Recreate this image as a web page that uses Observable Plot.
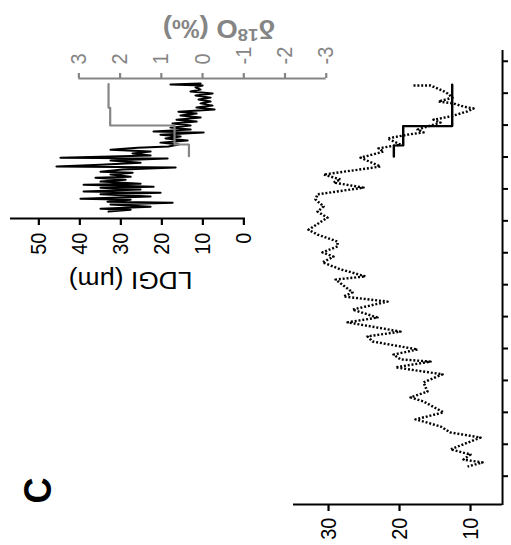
<!DOCTYPE html>
<html><head><meta charset="utf-8">
<script src="https://cdn.jsdelivr.net/npm/d3@7"></script>
<script src="https://cdn.jsdelivr.net/npm/@observablehq/plot@0.6"></script>
<style>
html,body{margin:0;padding:0;background:#fff;width:511px;height:545px;overflow:hidden;}
#fig{position:absolute;left:0;top:0;width:545px;height:464.545px;transform-origin:0 0;transform:translate(0px,545px) rotate(-90deg) scale(1,1.1);}
#fig svg{position:absolute;left:0;top:0;}
</style></head><body><div id="fig"></div>
<script>
// ---- data ----
const timeTicks = [0,1,2,3,4,5,6,7,8,9,10,11,12,13];
const valueTicks = [10,20,30];
const ldgiTicks = [0,10,20,30,40,50];
const d18oTicks = [3,2,1,0,-1,-2,-3];

const seriesTime = [12.24,12.24,12.08,11.99,11.86,11.74,11.68,11.58,11.52,11.43,11.27,11.17,11.08,10.86,10.77,10.70,10.58,10.39,10.27,10.17,9.98,9.70,9.45,9.30,9.20,9.04,8.83,8.67,8.45,8.29,8.10,7.72,7.57,7.35,7.20,7.01,6.88,6.70,6.48,6.26,6.16,5.76,5.63,5.47,5.22,4.97,4.82,4.53,4.38,4.22,3.97,3.81,3.66,3.59,3.41,3.19,2.94,2.65,2.47,2.34,2.00,1.78,1.56,1.37,1.21,0.84,0.68,0.52,0.43,0.30];
const seriesValue = [18.03,15.63,13.94,13.24,12.54,14.51,12.39,10.99,9.58,10.42,12.82,15.21,14.23,17.46,16.62,18.87,21.69,19.86,22.96,22.25,25.49,22.68,30.70,28.31,29.30,25.07,31.55,31.83,30.70,31.55,30.14,32.82,31.55,28.73,28.73,30.85,29.30,30.85,28.31,24.79,29.01,26.62,27.89,21.69,26.62,23.10,27.32,19.86,24.51,23.80,17.46,20.85,19.86,15.63,20.56,13.94,16.62,16.06,18.45,16.62,13.80,17.75,14.23,12.82,8.59,12.82,10.00,10.99,8.31,10.42];

const stepTime = [10.01,10.36,10.97,12.27];
const stepValue = [20.80,19.48,12.58,12.58];

const ldgiTime = [12.30,12.27,12.24,12.18,12.11,12.05,11.99,11.93,11.86,11.80,11.74,11.68,11.61,11.55,11.49,11.42,11.36,11.30,11.24,11.17,11.11,11.05,10.99,10.92,10.86,10.80,10.77,10.70,10.64,10.58,10.52,10.45,10.39,10.33,10.29,10.23,10.17,10.11,10.05,9.98,9.95,9.89,9.82,9.76,9.70,9.67,9.61,9.54,9.51,9.45,9.38,9.35,9.29,9.23,9.16,9.13,9.07,9.04,8.98,8.92,8.88,8.83,8.76,8.69,8.66,8.60,8.57,8.51,8.44,8.38,8.35,8.29];
const ldgiValue = [10.56,17.88,10.07,11.78,10.56,13.00,7.63,11.78,8.12,11.05,8.12,10.56,7.63,11.54,7.15,15.93,11.54,15.44,10.56,16.41,11.54,17.39,13.00,17.88,13.00,22.02,9.83,20.32,15.44,19.10,13.73,20.32,15.93,18.37,25.93,32.51,22.76,27.15,22.76,44.71,18.61,32.51,25.20,34.95,45.68,16.66,29.59,34.95,27.15,32.51,27.63,36.17,28.85,34.95,25.20,39.07,22.02,34.95,25.20,39.07,20.32,34.95,22.76,39.83,27.63,33.24,17.39,32.51,22.76,34.95,27.63,32.99];

const d18oTime = [10.02,10.39,10.99,11.54,12.29];
const d18oValue = [0.33,0.68,2.24,2.28,2.28];

// ---- layout ----
const W = 545, S = 1.1, H = 511 / S;
const font = '"Liberation Sans", Arial, sans-serif';
const gray = "#858585";
const mainX = [-0.887, 13.368], mainY = [5.49, 34.93];
const insetX = [8.073, 12.459];

const series = seriesTime.map((t, i) => ({t, v: seriesValue[i]}));
const step = stepTime.map((t, i) => ({t, v: stepValue[i]}));
const ldgi = ldgiTime.map((t, i) => ({t, v: ldgiValue[i]}));
const d18o = d18oTime.map((t, i) => ({t, v: d18oValue[i]}));

const fig = document.getElementById("fig");

const mainPlot = Plot.plot({
  width: W, height: H,
  marginLeft: 40, marginRight: 50, marginTop: 293 / S, marginBottom: (511 - 502) / S,
  style: {background: "white", fontFamily: font, color: "black", overflow: "visible"},
  x: {domain: mainX, axis: null},
  y: {domain: mainY, axis: null},
  marks: [
    Plot.line(series, {x: "t", y: "v", stroke: "black", strokeWidth: 2.4, strokeDasharray: "1.8,1.7", strokeLinecap: "butt"}),
    Plot.line(step, {x: "t", y: "v", curve: "step-after", stroke: "black", strokeWidth: 2.2}),
    Plot.ruleX([mainX[0]], {stroke: "black", strokeWidth: 2}),
    Plot.ruleY([mainY[0]], {stroke: "black", strokeWidth: 1.8}),
    Plot.axisY({ticks: valueTicks, anchor: "left", tickSize: 6, tickPadding: 7, fontSize: 20, strokeWidth: 2, label: null, tickFormat: d => String(d)}),
    Plot.axisX({ticks: timeTicks, anchor: "bottom", tickSize: 6 / S, tickFormat: () => "", strokeWidth: 2, label: null})
  ]
});
fig.appendChild(mainPlot);

const ldgiPlot = Plot.plot({
  width: W, height: H,
  marginLeft: 326, marginRight: 79, marginTop: 10 / S, marginBottom: (511 - 245) / S,
  style: {background: "transparent", fontFamily: font, color: "black", overflow: "visible"},
  x: {domain: insetX, axis: null},
  y: {domain: [-0.41, 56.9], axis: null},
  marks: [
    Plot.line(ldgi, {x: "t", y: "v", stroke: "black", strokeWidth: 2}),
    Plot.ruleX([insetX[0]], {stroke: "black", strokeWidth: 2}),
    Plot.axisY({ticks: ldgiTicks, anchor: "left", tickSize: 6, tickPadding: 8, fontSize: 20, strokeWidth: 2, label: null, tickFormat: d => String(d)}),
    Plot.text(["LDGI (μm)"], {frameAnchor: "left", textAnchor: "middle", lineAnchor: "middle", rotate: -90, dx: 264.5 - 326, dy: 2.3, fontSize: 24, fill: "black"}),
    Plot.text(["C"], {frameAnchor: "top-left", textAnchor: "middle", lineAnchor: "middle", dx: 54 - 326, dy: 34.5 - 10 / S, fontSize: 36, fontWeight: "bold", fill: "black"})
  ]
});
fig.appendChild(ldgiPlot);

const d18oPlot = Plot.plot({
  width: W, height: H,
  marginLeft: 326, marginRight: 79, marginTop: 78.3 / S, marginBottom: (511 - 325.7) / S,
  style: {background: "transparent", fontFamily: font, color: gray, overflow: "visible"},
  x: {domain: insetX, axis: null},
  y: {domain: [-3, 3], axis: null},
  marks: [
    Plot.line(d18o, {x: "t", y: "v", curve: "step-after", stroke: gray, strokeWidth: 2}),
    Plot.ruleX([insetX[1]], {stroke: gray, strokeWidth: 2}),
    Plot.axisY({ticks: d18oTicks, anchor: "right", tickSize: 5, tickPadding: 9, fontSize: 20, strokeWidth: 2, color: gray, label: null, tickFormat: d => String(d)}),
    Plot.text(["δ18O (‰)"], {frameAnchor: "right", textAnchor: "middle", lineAnchor: "middle", rotate: -90, dx: 50, dy: 15, fontSize: 25, fontWeight: "bold", fill: gray})
  ]
});
fig.appendChild(d18oPlot);

// superscript "18" in the δ18O title
d18oPlot.querySelectorAll("text").forEach(t => {
  if (t.textContent === "δ18O (‰)") {
    const ns = "http://www.w3.org/2000/svg";
    t.textContent = "";
    const a = document.createElementNS(ns, "tspan"); a.textContent = "δ";
    const b = document.createElementNS(ns, "tspan"); b.textContent = "18";
    b.setAttribute("font-size", "17"); b.setAttribute("dy", "-8");
    const c = document.createElementNS(ns, "tspan"); c.textContent = "O (‰)";
    c.setAttribute("dy", "8");
    t.append(a, b, c);
  }
});
</script></body></html>
